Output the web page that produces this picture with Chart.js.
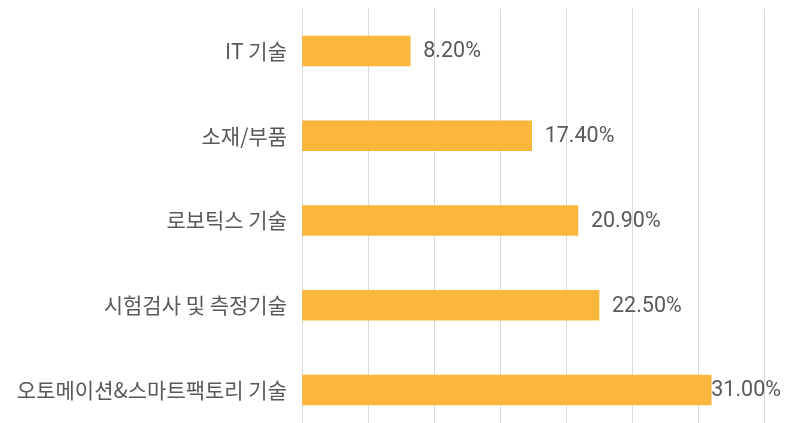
<!DOCTYPE html>
<html><head><meta charset="utf-8">
<script src="https://cdn.jsdelivr.net/npm/chart.js@4"></script>
<style>
html,body{margin:0;padding:0;background:#fff;overflow:hidden;width:798px;height:423px;}
#wrap{position:absolute;left:0;top:-19px;width:798px;height:479px;}
</style></head>
<body><div id="wrap"><canvas id="c"></canvas></div>
<script>
const categories = ["IT 기술", "소재/부품", "로보틱스 기술", "시험검사 및 측정기술", "오토메이션&스마트팩토리 기술"];
const values = [8.2, 17.4, 20.9, 22.5, 31.0];
const valueLabels = ["8.20%", "17.40%", "20.90%", "22.50%", "31.00%"];

const labelPlugin = {
  id: 'valueLabels',
  afterDatasetsDraw(chart) {
    const ctx = chart.ctx;
    const meta = chart.getDatasetMeta(0);
    ctx.save();
    ctx.font = '21.5px Roboto, "Noto Sans", sans-serif';
    ctx.fillStyle = '#595959';
    ctx.textBaseline = 'middle';
    ctx.textAlign = 'left';
    meta.data.forEach((bar, i) => {
      const t = valueLabels[i];
      const w = ctx.measureText(t).width;
      let x = bar.x + 13;
      if (x + w > 781) x = 781 - w;
      ctx.fillText(t, x, bar.y + 1);
    });
    ctx.restore();
  }
};

new Chart(document.getElementById('c'), {
  type: 'bar',
  data: {
    labels: categories,
    datasets: [{
      data: values,
      backgroundColor: '#FBB63C',
      borderWidth: 0,
      barThickness: 30
    }]
  },
  options: {
    indexAxis: 'y',
    responsive: true,
    maintainAspectRatio: false,
    animation: false,
    layout: { padding: { left: 0, right: 34, top: 0, bottom: 0 } },
    plugins: { legend: { display: false }, tooltip: { enabled: false } },
    scales: {
      x: {
        min: 0, max: 35,
        ticks: { display: false, stepSize: 5 },
        grid: { color: '#D9D9D9', lineWidth: 1, drawTicks: false },
        border: { display: false }
      },
      y: {
        grid: { display: false, drawTicks: false },
        border: { display: false },
        ticks: {
          color: '#595959',
          padding: 15,
          font: { family: '"Noto Sans CJK KR", sans-serif', size: 21 }
        },
        afterFit(scale) { scale.width = 302; }
      }
    }
  },
  plugins: [labelPlugin]
});
</script></body></html>
